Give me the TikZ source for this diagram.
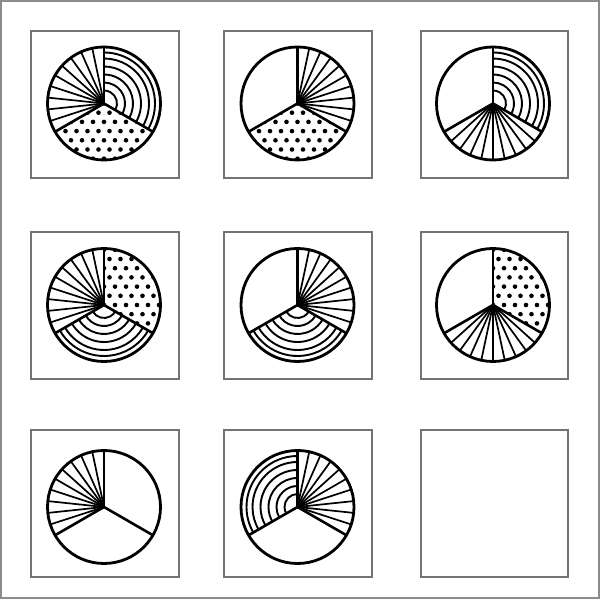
\documentclass[tikz,border=0pt]{standalone}
\begin{document}
\begin{tikzpicture}[x=0.5pt,y=0.5pt]
\tikzset{
 boxline/.style={draw=black!55, line width=0.75pt},
 frameline/.style={draw=black!45, line width=0.6pt},
 rim/.style={line width=1.4pt},
 divider/.style={line width=1.3pt},
 spoke/.style={line width=0.85pt},
 ring/.style={line width=0.95pt},
}
\newcommand\fanSector[3]{\foreach \k in {1,...,9}{\draw[spoke] (#1,#2) -- ++({#3+12*\k}:56.5);}}
\newcommand\arcSector[3]{\foreach \r in {13,21,29,37,45,51}{\draw[ring] (#1,#2) ++(#3:\r) arc[start angle=#3, delta angle=120, radius=\r];}}
\newcommand\dotSector[3]{\begin{scope}\clip (#1,#2) -- ++(#3:57) arc[start angle=#3, delta angle=120, radius=57] -- cycle;
 \foreach \i in {-6,...,6}{\foreach \j in {-7,...,7}{\fill ({#1+11*\i+5.5*mod(\j+8,2)},{#2+9.2*\j}) circle[radius=2.3];}}\end{scope}}
\newcommand\baseCircle[2]{%
 \draw[divider] (#1,#2) -- ++(90:56.5);
 \draw[divider] (#1,#2) -- ++(210:56.5);
 \draw[divider] (#1,#2) -- ++(330:56.5);
 \draw[rim] (#1,#2) circle[radius=56.5];}
\useasboundingbox (0,0) rectangle (600,600);
\fill[white] (0,0) rectangle (600,600);
\draw[frameline] (1,2) rectangle (599,599);
% boxes
\foreach \xa/\xb in {31/179,224/372,421/568}{
 \foreach \ya/\yb in {422/569,221/368,23/170}{
  \draw[boxline] (\xa,\ya) rectangle (\xb,\yb);}}
% panel 1
\fanSector{104}{496.5}{90}\arcSector{104}{496.5}{-30}\dotSector{104}{496.5}{210}\baseCircle{104}{496.5}
% panel 2
\fanSector{297.5}{496.5}{-30}\dotSector{297.5}{496.5}{210}\baseCircle{297.5}{496.5}
% panel 3
\arcSector{493}{496.5}{-30}\fanSector{493}{496.5}{210}\baseCircle{493}{496.5}
% panel 4
\fanSector{104}{295}{90}\dotSector{104}{295}{-30}\arcSector{104}{295}{210}\baseCircle{104}{295}
% panel 5
\fanSector{297.5}{295}{-30}\arcSector{297.5}{295}{210}\baseCircle{297.5}{295}
% panel 6
\dotSector{493}{295}{-30}\fanSector{493}{295}{210}\baseCircle{493}{295}
% panel 7
\fanSector{104}{93}{90}\baseCircle{104}{93}
% panel 8
\arcSector{297.5}{93}{90}\fanSector{297.5}{93}{-30}\baseCircle{297.5}{93}
\end{tikzpicture}
\end{document}
